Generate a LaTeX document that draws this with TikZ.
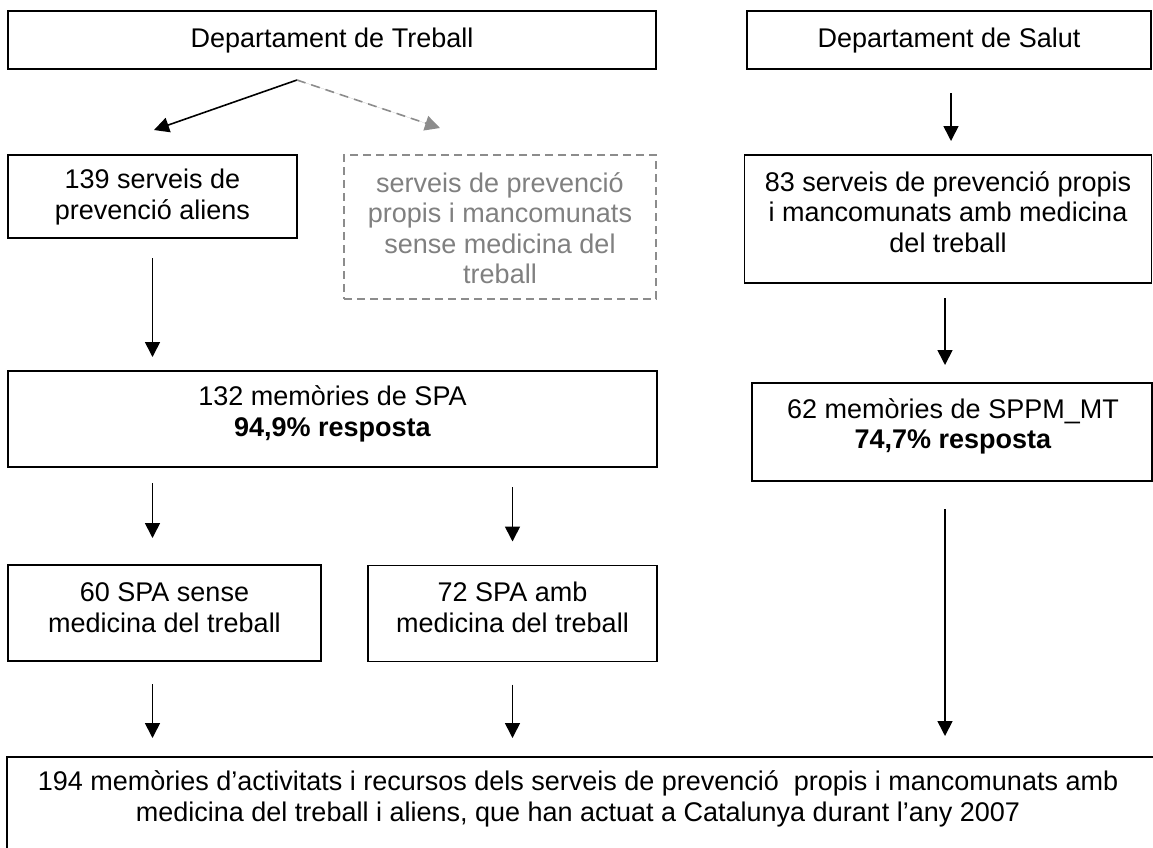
\documentclass[tikz,border=0pt]{standalone}
\usepackage{fontspec}
\setmainfont{Liberation Sans}
\usetikzlibrary{arrows.meta}
\definecolor{dgray}{RGB}{140,140,140}
\definecolor{tgray}{RGB}{128,128,128}
\begin{document}
\begin{tikzpicture}[x=1pt,y=-1pt,
  box/.style={draw, line width=1.8pt, inner sep=0pt, outer sep=0pt},
  dbox/.style={draw=dgray, line width=1.6pt, dash pattern=on 8pt off 5pt, inner sep=0pt, outer sep=0pt},
  txt/.style={align=center, font=\fontsize{27}{30.5}\selectfont, inner sep=0pt},
  arr/.style={line width=1.6pt, -{Triangle[length=15pt,width=15pt]}},
  garr/.style={arr, draw=dgray, fill=dgray, dash pattern=on 9pt off 6pt},
]
\useasboundingbox (0,0) rectangle (1153,847);
\fill[white] (0,0) rectangle (1153,847);

% boxes
\node[box, minimum width=648pt, minimum height=58pt] (treball) at (332,40) {};
\node[box, minimum width=404pt, minimum height=58pt] (salut) at (949,40) {};
\node[box, minimum width=289pt, minimum height=83pt] (s139) at (152.5,196.5) {};
\node[dbox, minimum width=312pt, minimum height=144pt] (sdash) at (500,227) {};
\node[box, minimum width=407pt, minimum height=128pt] (s83) at (948,219) {};
\node[box, minimum width=649pt, minimum height=96pt] (s132) at (332.5,419) {};
\node[box, minimum width=400pt, minimum height=98pt] (s62) at (952,432) {};
\node[box, minimum width=313pt, minimum height=96pt] (s60) at (164.5,613) {};
\node[box, minimum width=289pt, minimum height=96pt] (s72) at (512.5,613.5) {};
\node[box, minimum width=1150pt, minimum height=120pt] (sbot) at (582,817) {};

% texts
\node[txt] (ttreball) at (332,41) {Departament de Treball};
\node[txt] (tsalut) at (949,41) {Departament de Salut};
\node[txt] (t139) at (152.5,197) {139 serveis de\\prevenció aliens};
\node[txt, text=tgray] (tdash) at (500,228) {serveis de prevenció\\propis i mancomunats\\sense medicina del\\treball};
\node[txt] (t83) at (948,212) {83 serveis de prevenció propis\\i mancomunats amb medicina\\del treball};
\node[txt] (t132) at (332.5,414) {132 memòries de SPA\\\textbf{94,9\% resposta}};
\node[txt] (t62) at (953,426.5) {62 memòries de SPPM\_MT\\\textbf{74,7\% resposta}};
\node[txt] (t60) at (164.5,607.5) {60 SPA sense\\medicina del treball};
\node[txt] (t72) at (512.5,607.5) {72 SPA amb\\medicina del treball};
\node[txt] (tbot) at (578,799) {194 memòries d’activitats i recursos dels serveis de prevenció\ \ propis i mancomunats amb\\medicina del treball i aliens, que han actuat a Catalunya durant l’any 2007};

% connectors
\coordinate (split) at (297,80);
\coordinate (lt) at (154,130);
\coordinate (rt) at (440,128);
\draw[arr] (split) -- (lt);
\draw[garr] (split) -- (rt);

\draw[arr, shorten <=20pt, shorten >=14pt] (s139.south) -- (s139.south |- s132.north);
\draw[arr, shorten <=16pt, shorten >=27pt] (s132.south -| s139.south) -- (s60.north -| s139.south);
\draw[arr, shorten <=20pt, shorten >=24pt] (s132.south -| s72.north) -- (s72.north);
\draw[arr, shorten <=23pt, shorten >=19pt] (s60.south -| s139.south) -- (sbot.north -| s139.south);
\draw[arr, shorten <=23pt, shorten >=19pt] (s72.south) -- (sbot.north -| s72.south);

\draw[arr, shorten <=24pt, shorten >=14pt] ([xshift=2pt]salut.south) -- ([xshift=2pt]salut.south |- s83.north);
\draw[arr, shorten <=15pt, shorten >=18pt] ([xshift=-3pt]s83.south) -- ([xshift=-3pt]s83.south |- s62.north);
\draw[arr, shorten <=28pt, shorten >=21pt] ([xshift=-3pt]s83.south |- s62.south) -- ([xshift=-3pt]s83.south |- sbot.north);
\end{tikzpicture}
\end{document}
